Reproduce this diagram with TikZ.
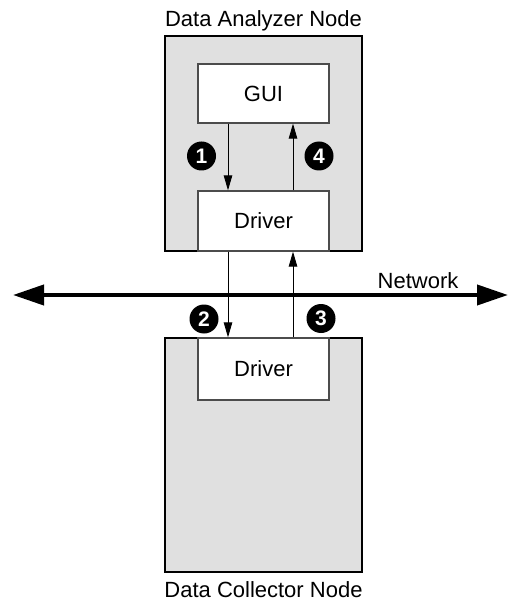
\documentclass[tikz,border=0pt]{standalone}
\usepackage{fontspec}
\setmainfont{Liberation Sans}
\usetikzlibrary{arrows.meta}
\definecolor{boxgray}{HTML}{E0E0E0}
\begin{document}
\begin{tikzpicture}[x=1pt,y=-1pt,
  outerbox/.style={draw=black,line width=1.8pt,fill=boxgray,minimum width=197pt,inner sep=0pt},
  innerbox/.style={draw=black!70,line width=1.3pt,fill=white,minimum width=131pt,inner sep=0pt,font=\fontsize{22}{26}\selectfont},
  lbl/.style={font=\fontsize{22}{26}\selectfont,inner sep=0pt,anchor=base},
  num/.style={circle,fill=black,text=white,inner sep=0pt,minimum size=29pt,font=\fontsize{21}{21}\selectfont\bfseries},
  flow/.style={line width=0.9pt,-{Triangle[length=15pt,width=8.5pt]}}
]
\useasboundingbox (0,0) rectangle (509,601);
\node[outerbox,minimum height=215pt] (analyzer) at (263.5,143.5) {};
\node[outerbox,minimum height=234pt] (collector) at (263.5,455) {};
\node[innerbox,minimum height=59pt] (gui) at (263.5,93.5) {GUI};
\node[innerbox,minimum height=60pt] (drvA) at (263.5,221) {Driver};
\node[innerbox,minimum height=62pt] (drvB) at (263.5,369) {Driver};
\node[lbl] (labA) at (263.5,27) {Data Analyzer Node};
\node[lbl] (labB) at (263.5,597) {Data Collector Node};
\coordinate (xl) at (228,0);
\coordinate (xr) at (293,0);
\coordinate (netL) at (13,295);
\coordinate (netR) at (508,295);
\draw[line width=4pt,{Triangle[length=31pt,width=20pt]}-{Triangle[length=31pt,width=20pt]}] (netL) -- (netR);
\node[lbl,anchor=center] (net) at (418,281) {Network};
\draw[flow] (gui.south -| xl) -- (drvA.north -| xl);
\draw[flow] (drvA.north -| xr) -- (gui.south -| xr);
\draw[flow] (drvA.south -| xl) -- (drvB.north -| xl);
\draw[flow] (drvB.north -| xr) -- (drvA.south -| xr);
\node[num] (n1) at (201.5,156) {1};
\node[num] (n4) at (319,156) {4};
\node[num] (n2) at (204,319) {2};
\node[num] (n3) at (321,318.5) {3};
\end{tikzpicture}
\end{document}
